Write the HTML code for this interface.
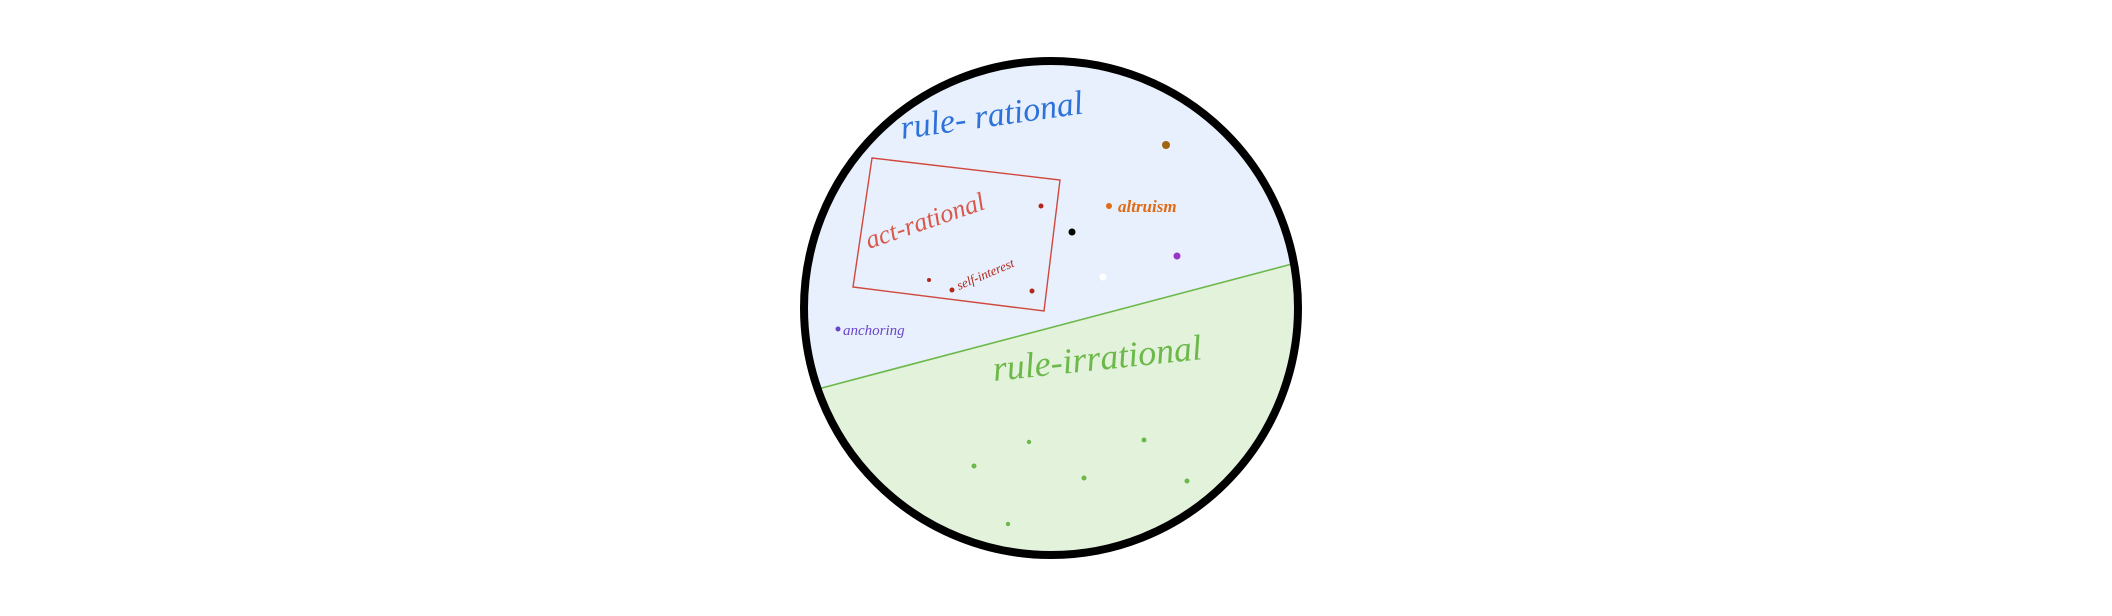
<!DOCTYPE html>
<html><head><style>html,body{margin:0;padding:0;background:#fff;width:2112px;height:616px;overflow:hidden}</style></head>
<body>
<svg width="2112" height="616" viewBox="0 0 2112 616" xmlns="http://www.w3.org/2000/svg">
<defs><clipPath id="c"><ellipse cx="1051" cy="308" rx="247" ry="247"/></clipPath></defs>
<g clip-path="url(#c)">
<rect x="790" y="50" width="530" height="520" fill="#e7f0fc"/>
<polygon points="780,399 1330,254 1330,570 780,570" fill="#e3f2da"/>
<line x1="780" y1="399" x2="1330" y2="254" stroke="#6cb84a" stroke-width="1.6"/>
</g>
<ellipse cx="1051" cy="308" rx="247" ry="247" fill="none" stroke="#000" stroke-width="8"/>
<polygon points="872,158 1060,180 1044,311 853,287" fill="none" stroke="#d0483c" stroke-width="1.4"/>
<g font-family="'Liberation Serif',serif" font-style="italic">
<text x="902" y="139" font-size="34" fill="#2d72d9" transform="rotate(-8 902 139)">rule- rational</text>
<text x="869" y="249" font-size="26" fill="#d9574a" transform="rotate(-19 869 249)">act-rational</text>
<text x="959" y="290" font-size="13" fill="#b2261c" transform="rotate(-23 959 290)">self-interest</text>
<text x="1118" y="212" font-size="17" fill="#e06a16" font-weight="bold">altruism</text>
<text x="843" y="335" font-size="15" fill="#6a45c8">anchoring</text>
<text x="994" y="381" font-size="36" fill="#6cb84a" transform="rotate(-6 994 381)">rule-irrational</text>
</g>
<g>
<circle cx="1166" cy="145" r="4" fill="#a0660f"/>
<circle cx="1041" cy="206" r="2.5" fill="#b2261c"/>
<circle cx="1072" cy="232" r="3.5" fill="#000"/>
<circle cx="1109" cy="206" r="3" fill="#e06a16"/>
<circle cx="1177" cy="256" r="3.5" fill="#9a34c8"/>
<circle cx="1103" cy="277" r="3.5" fill="#fff"/>
<circle cx="929" cy="280" r="2" fill="#b2261c"/>
<circle cx="952" cy="290" r="2.5" fill="#b2261c"/>
<circle cx="1032" cy="291" r="2.5" fill="#b2261c"/>
<circle cx="838" cy="329" r="2.5" fill="#6a45c8"/>
<g fill="#6cb84a">
<circle cx="1029" cy="442" r="2.2"/><circle cx="1144" cy="440" r="2.5"/>
<circle cx="974" cy="466" r="2.5"/><circle cx="1084" cy="478" r="2.5"/>
<circle cx="1187" cy="481" r="2.5"/><circle cx="1008" cy="524" r="2.2"/>
</g>
</g>
</svg>
</body></html>
